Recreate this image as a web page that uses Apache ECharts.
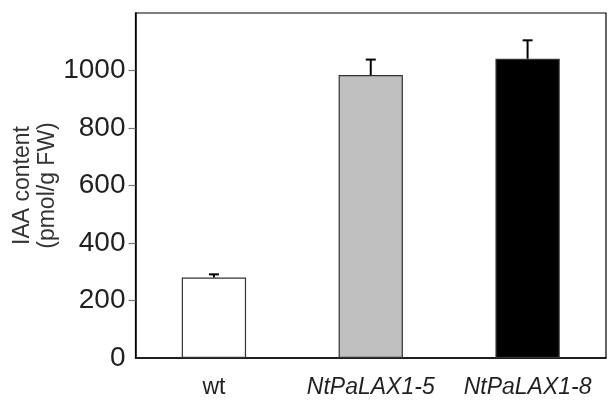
<!DOCTYPE html>
<html>
<head>
<meta charset="utf-8">
<script src="https://cdn.jsdelivr.net/npm/echarts@6/dist/echarts.min.js"></script>
<style>html,body{margin:0;padding:0;background:#fff}#c{width:615px;height:403px}</style>
</head>
<body>
<div id="c"></div>
<script>
var categories = ['wt', 'NtPaLAX1-5', 'NtPaLAX1-8'];
var means = [280, 984, 1041];
var errUpper = [291, 1038, 1105];
var barColors = ['#ffffff', '#c0c0c0', '#000000'];
var yTicks = [0, 200, 400, 600, 800, 1000];
var yTickMarks = [200, 400, 600, 800, 1000];

var chart = echarts.init(document.getElementById('c'));
var font = 'Liberation Sans, Arial, Helvetica, sans-serif';
chart.setOption({
  animation: false,
  grid: { left: 135.5, right: 9, top: 13, bottom: 45, containLabel: false, outerBoundsMode: 'none', show: true, borderColor: '#000', borderWidth: 1.2, backgroundColor: 'transparent' },
  xAxis: {
    type: 'category',
    data: categories,
    axisLine: { lineStyle: { color: '#000', width: 1.5 } },
    axisTick: { show: false },
    axisLabel: {
      margin: 18,
      formatter: function (v) { return v === 'wt' ? '{n|' + v + '}' : '{i|' + v + '}'; },
      rich: {
        n: { fontFamily: font, fontSize: 23, color: '#231f20' },
        i: { fontFamily: font, fontSize: 23, fontStyle: 'italic', color: '#231f20' }
      }
    }
  },
  yAxis: {
    type: 'value',
    min: 0, max: 1200, interval: 200,
    splitLine: { show: false },
    axisLine: { show: true, lineStyle: { color: '#000', width: 1.5 } },
    axisTick: { show: true, length: 7, lineStyle: { color: '#777', width: 1.2 }, customValues: yTickMarks },
    axisLabel: { customValues: yTicks, margin: 10, fontFamily: font, fontSize: 28, color: '#231f20', formatter: function (v) { return String(v); } },
    name: 'IAA content\n(pmol/g FW)',
    nameLocation: 'middle',
    nameGap: 75,
    nameMoveOverlap: false,
    nameTextStyle: { fontFamily: font, fontSize: 23, color: '#333', lineHeight: 25 }
  },
  series: [
    {
      type: 'bar',
      barWidth: '41%',
      data: means.map(function (v, i) {
        return { value: v, itemStyle: { color: barColors[i], borderColor: '#333', borderWidth: 1.2 } };
      }),
      z: 2
    },
    {
      type: 'custom',
      z: 3,
      data: means.map(function (v, i) { return [i, v, errUpper[i]]; }),
      renderItem: function (params, api) {
        var lo = api.coord([api.value(0), api.value(1)]);
        var hi = api.coord([api.value(0), api.value(2)]);
        var w = 5;
        return {
          type: 'group',
          children: [
            { type: 'line', shape: { x1: lo[0], y1: lo[1], x2: hi[0], y2: hi[1] }, style: { stroke: '#000', lineWidth: 2 } },
            { type: 'line', shape: { x1: hi[0] - w, y1: hi[1], x2: hi[0] + w, y2: hi[1] }, style: { stroke: '#000', lineWidth: 2 } }
          ]
        };
      }
    }
  ]
});
</script>
</body>
</html>
